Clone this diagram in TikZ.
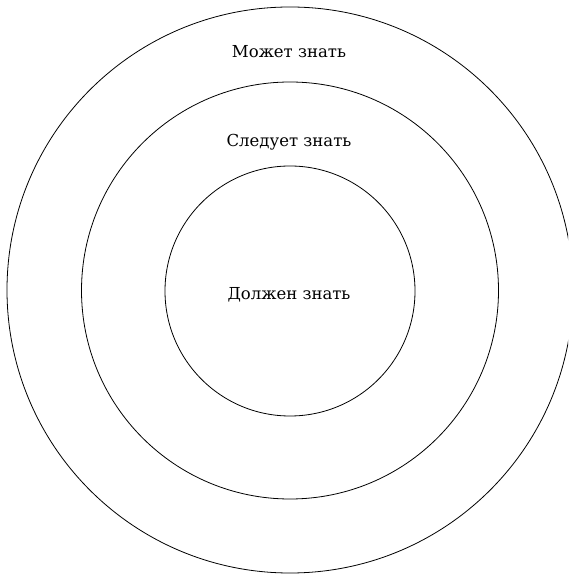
\documentclass[tikz,border=0pt]{standalone}
\usepackage{fontspec}
\setmainfont{DejaVu Serif}
\begin{document}
\begin{tikzpicture}[x=1pt,y=1pt,
  ring/.style={draw=black,line width=0.8pt,circle,minimum size=#1,inner sep=0pt},
  lbl/.style={font=\fontsize{16.5}{19}\selectfont,inner sep=0pt,anchor=base}]
\useasboundingbox (0,0) rectangle (568,575);
\clip (0,0) rectangle (568,575);
\node[ring=566pt] (outer) at (290,285) {};
\node[ring=417pt] (middle) at (290,284.5) {};
\node[ring=250pt] (inner) at (290,284) {};
\node[lbl] (l1) at (289,517) {Может знать};
\node[lbl] (l2) at (289,428) {Следует знать};
\node[lbl] (l3) at (289,275) {Должен знать};
\end{tikzpicture}
\end{document}
